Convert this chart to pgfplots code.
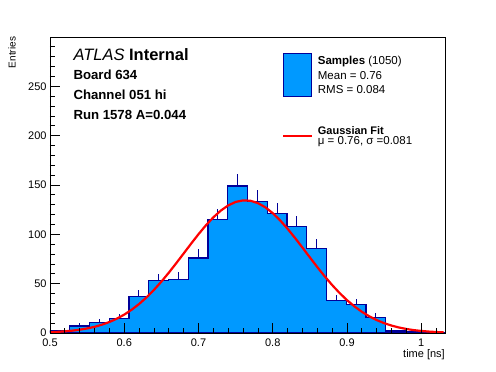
\documentclass[border=0pt]{standalone}
\usepackage{pgfplots}
\pgfplotsset{compat=1.18}
\usepackage{fontspec}
\setmainfont{Liberation Sans}
\definecolor{histfill}{RGB}{0,153,255}
\definecolor{histline}{RGB}{0,0,153}
\begin{document}
\begin{tikzpicture}
\useasboundingbox (-50pt,-39pt) rectangle (446pt,333pt);
\begin{axis}[
  at={(0pt,0pt)}, anchor=south west,
  scale only axis, width=395pt, height=296pt,
  xmin=0.5, xmax=1.032, ymin=0, ymax=300,
  xtick={0.5,0.6,0.7,0.8,0.9,1.0},
  xticklabels={0.5,0.6,0.7,0.8,0.9,1},
  minor xtick={0.52,0.54,0.56,0.58,0.62,0.64,0.66,0.68,0.72,0.74,0.76,0.78,0.82,0.84,0.86,0.88,0.92,0.94,0.96,0.98,1.02},
  ytick={0,50,100,150,200,250},
  minor ytick={10,20,30,40,60,70,80,90,110,120,130,140,160,170,180,190,210,220,230,240,260,270,280,290},
  tick align=inside,
  xtick pos=left, ytick pos=left,
  major tick length=10pt, minor tick length=5pt,
  axis on top,
  axis line style={line width=0.8pt},
  tick style={line width=0.8pt, black},
  /pgf/number format/assume math mode=true,
  ticklabel style={font=\fontsize{11}{13}\selectfont},
  xticklabel style={anchor=base, yshift=-13.4pt},
  yticklabel style={anchor=east, inner sep=0pt, xshift=-3.3pt},
]
\addplot[const plot, fill=histfill, draw=histline, line width=1.2pt] coordinates {
(0.5,2) (0.5266,7) (0.5532,11) (0.5798,15) (0.6064,37) (0.633,53) (0.6596,54) (0.6862,76) (0.7128,115) (0.7394,149)
(0.766,133) (0.7926,121) (0.8192,108) (0.8458,86) (0.8724,33) (0.899,29) (0.9256,16) (0.9522,2) (0.9788,1) (1.0054,0) (1.032,0)
} \closedcycle;
\addplot[draw=none, mark=none, forget plot,
  error bars/.cd, y dir=plus, y explicit, error mark=none,
  error bar style={draw=histline, line width=1.1pt}] coordinates {
(0.5133,2) += (0,1.41)
(0.5399,7) += (0,2.65)
(0.5665,11) += (0,3.32)
(0.5931,15) += (0,3.87)
(0.6197,37) += (0,6.08)
(0.6463,53) += (0,7.28)
(0.6729,54) += (0,7.35)
(0.6995,76) += (0,8.72)
(0.7261,115) += (0,10.72)
(0.7527,149) += (0,12.21)
(0.7793,133) += (0,11.53)
(0.8059,121) += (0,11.0)
(0.8325,108) += (0,10.39)
(0.8591,86) += (0,9.27)
(0.8857,33) += (0,5.74)
(0.9123,29) += (0,5.39)
(0.9389,16) += (0,4.0)
(0.9655,2) += (0,1.41)
(0.9921,1) += (0,1.0)
};
\addplot[color=red, line width=2.2pt, mark=none] coordinates {
(0.50,0.79) (0.51,1.15) (0.52,1.67) (0.53,2.38) (0.54,3.33) (0.55,4.61) (0.56,6.27) (0.57,8.43) (0.58,11.15) (0.59,14.52)
(0.60,18.64) (0.61,23.58) (0.62,29.39) (0.63,36.10) (0.64,43.67) (0.65,52.04) (0.66,61.12) (0.67,70.71) (0.68,80.59) (0.69,90.51)
(0.70,100.13) (0.71,109.15) (0.72,117.22) (0.73,124.03) (0.74,129.31) (0.75,132.82) (0.76,134.41) (0.77,134.01) (0.78,131.64) (0.79,127.40)
(0.80,121.48) (0.81,114.12) (0.82,105.63) (0.83,96.33) (0.84,86.55) (0.85,76.61) (0.86,66.81) (0.87,57.40) (0.88,48.60) (0.89,40.53)
(0.90,33.30) (0.91,26.97) (0.92,21.51) (0.93,16.91) (0.94,13.09) (0.95,9.99) (0.96,7.51) (0.97,5.56) (0.98,4.06) (0.99,2.91)
(1.00,2.07) (1.01,1.44) (1.02,0.99) (1.03,0.67)
};
\end{axis}
% annotations
\node[anchor=base west, inner sep=0pt, font=\fontsize{16.5}{19}\selectfont] at (23.3pt,272pt) {\textit{ATLAS} \textbf{Internal}};
\node[anchor=base west, inner sep=0pt, font=\fontsize{13.2}{15}\selectfont\bfseries] at (23.3pt,253pt) {Board 634};
\node[anchor=base west, inner sep=0pt, font=\fontsize{13.2}{15}\selectfont\bfseries] at (23.3pt,233pt) {Channel 051 hi};
\node[anchor=base west, inner sep=0pt, font=\fontsize{13.2}{15}\selectfont\bfseries] at (23.3pt,213.7pt) {Run 1578 A=0.044};
% legend
\draw[draw=histline, fill=histfill, line width=0.8pt] (233.3pt,236.3pt) rectangle (261.7pt,279.7pt);
\node[anchor=base west, inner sep=0pt, font=\fontsize{11.5}{13}\selectfont] at (267.7pt,268pt) {\textbf{Samples} (1050)};
\node[anchor=base west, inner sep=0pt, font=\fontsize{11.5}{13}\selectfont] at (267.7pt,253.7pt) {Mean = 0.76};
\node[anchor=base west, inner sep=0pt, font=\fontsize{11.5}{13}\selectfont] at (267.7pt,239.7pt) {RMS = 0.084};
\draw[draw=red, line width=2.2pt] (233.3pt,196.7pt) -- (261.7pt,196.7pt);
\node[anchor=base west, inner sep=0pt, font=\fontsize{11}{13}\selectfont\bfseries] at (267.7pt,198.7pt) {Gaussian Fit};
\node[anchor=base west, inner sep=0pt, font=\fontsize{11.5}{13}\selectfont] at (267.7pt,188.7pt) {μ = 0.76, σ =0.081};
% axis titles
\node[anchor=base east, rotate=90, inner sep=0pt, font=\fontsize{10}{12}\selectfont] at (-34.3pt,296.3pt) {Entries};
\node[anchor=base east, inner sep=0pt, font=\fontsize{11}{13}\selectfont] at (395pt,-25pt) {time [ns]};
\end{tikzpicture}
\end{document}
